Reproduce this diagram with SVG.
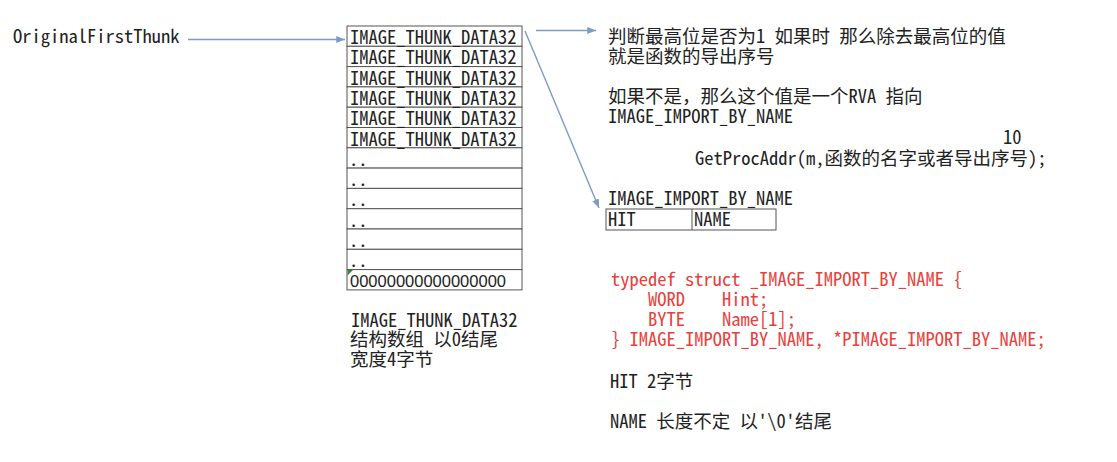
<svg xmlns="http://www.w3.org/2000/svg" width="1117" height="462" viewBox="0 0 1117 462">
<defs>
<marker id="ah" viewBox="0 0 10 8" refX="10" refY="4" markerWidth="9" markerHeight="7" markerUnits="userSpaceOnUse" orient="auto"><path d="M0,0 L10,4 L0,8 z" fill="#7b9bc8"/></marker>
</defs>
<style>
text{font-family:"Noto Sans Mono CJK SC","Liberation Mono","Noto Sans CJK SC",monospace;font-size:18.5px;fill:#222;}
.red{fill:#e8413c}
.z{font-family:"Liberation Sans",Arial,sans-serif;font-size:16.5px}
.cell{fill:#fff;stroke:#555;stroke-width:1}
.conn{stroke:#7b9bc8;stroke-width:1.4;fill:none;marker-end:url(#ah)}
</style>
<rect width="1117" height="462" fill="#fff"/>

<g id="connectors">
<line class="conn" x1="188" y1="39.5" x2="345" y2="39.5"/>
<line class="conn" x1="536" y1="30.5" x2="596" y2="30.5"/>
<line class="conn" x1="525" y1="31" x2="599" y2="208"/>
</g>

<g id="oft-label">
<text x="13" y="43">OriginalFirstThunk</text>
</g>

<g id="thunk-array">
<rect class="cell" x="347" y="26" width="175" height="20.3"/>
<rect class="cell" x="347" y="46.3" width="175" height="20.3"/>
<rect class="cell" x="347" y="66.6" width="175" height="20.3"/>
<rect class="cell" x="347" y="86.9" width="175" height="20.3"/>
<rect class="cell" x="347" y="107.2" width="175" height="20.3"/>
<rect class="cell" x="347" y="127.5" width="175" height="20.3"/>
<rect class="cell" x="347" y="147.8" width="175" height="20.3"/>
<rect class="cell" x="347" y="168.1" width="175" height="20.3"/>
<rect class="cell" x="347" y="188.4" width="175" height="20.3"/>
<rect class="cell" x="347" y="208.7" width="175" height="20.3"/>
<rect class="cell" x="347" y="229" width="175" height="20.3"/>
<rect class="cell" x="347" y="249.3" width="175" height="20.3"/>
<rect class="cell" x="347" y="269.6" width="175" height="20.3"/>
<path d="M347.5,270 L353,270 L347.5,275.5 z" fill="#2e8b3a"/>
<text x="350" y="44">IMAGE_THUNK_DATA32</text>
<text x="350" y="64.3">IMAGE_THUNK_DATA32</text>
<text x="350" y="84.6">IMAGE_THUNK_DATA32</text>
<text x="350" y="104.9">IMAGE_THUNK_DATA32</text>
<text x="350" y="125.2">IMAGE_THUNK_DATA32</text>
<text x="350" y="145.5">IMAGE_THUNK_DATA32</text>
<text x="349" y="165.8">..</text>
<text x="349" y="186.1">..</text>
<text x="349" y="206.4">..</text>
<text x="349" y="226.7">..</text>
<text x="349" y="247">..</text>
<text x="349" y="267.3">..</text>
<text class="z" x="350" y="287">00000000000000000</text>
</g>

<g id="thunk-caption">
<text x="351" y="327">IMAGE_THUNK_DATA32</text>
<text x="350" y="346">结构数组 以0结尾</text>
<text x="350" y="366">宽度4字节</text>
</g>

<g id="ordinal-note">
<text x="608" y="43">判断最高位是否为1 如果时 那么除去最高位的值</text>
<text x="608" y="63">就是函数的导出序号</text>
<text x="608" y="103">如果不是，那么这个值是一个RVA 指向</text>
<text x="608" y="123">IMAGE_IMPORT_BY_NAME</text>
<text x="1003" y="144">10</text>
<text x="695" y="165">GetProcAddr(m,函数的名字或者导出序号);</text>
</g>

<g id="import-by-name">
<text x="608" y="205">IMAGE_IMPORT_BY_NAME</text>
<rect class="cell" x="606" y="209" width="170" height="21"/>
<line x1="692" y1="209" x2="692" y2="230" stroke="#555" stroke-width="1"/>
<text x="608" y="226">HIT</text>
<text x="694" y="226">NAME</text>
</g>

<g id="struct-def">
<text class="red" x="611" y="286">typedef struct _IMAGE_IMPORT_BY_NAME {</text>
<text class="red" y="306"><tspan x="648">WORD</tspan><tspan x="722">Hint;</tspan></text>
<text class="red" y="326"><tspan x="648">BYTE</tspan><tspan x="722">Name[1];</tspan></text>
<text class="red" x="611" y="346">} IMAGE_IMPORT_BY_NAME, *PIMAGE_IMPORT_BY_NAME;</text>
</g>

<g id="field-notes">
<text x="610" y="388">HIT 2字节</text>
<text x="610" y="428">NAME 长度不定 以'\0'结尾</text>
</g>
</svg>
